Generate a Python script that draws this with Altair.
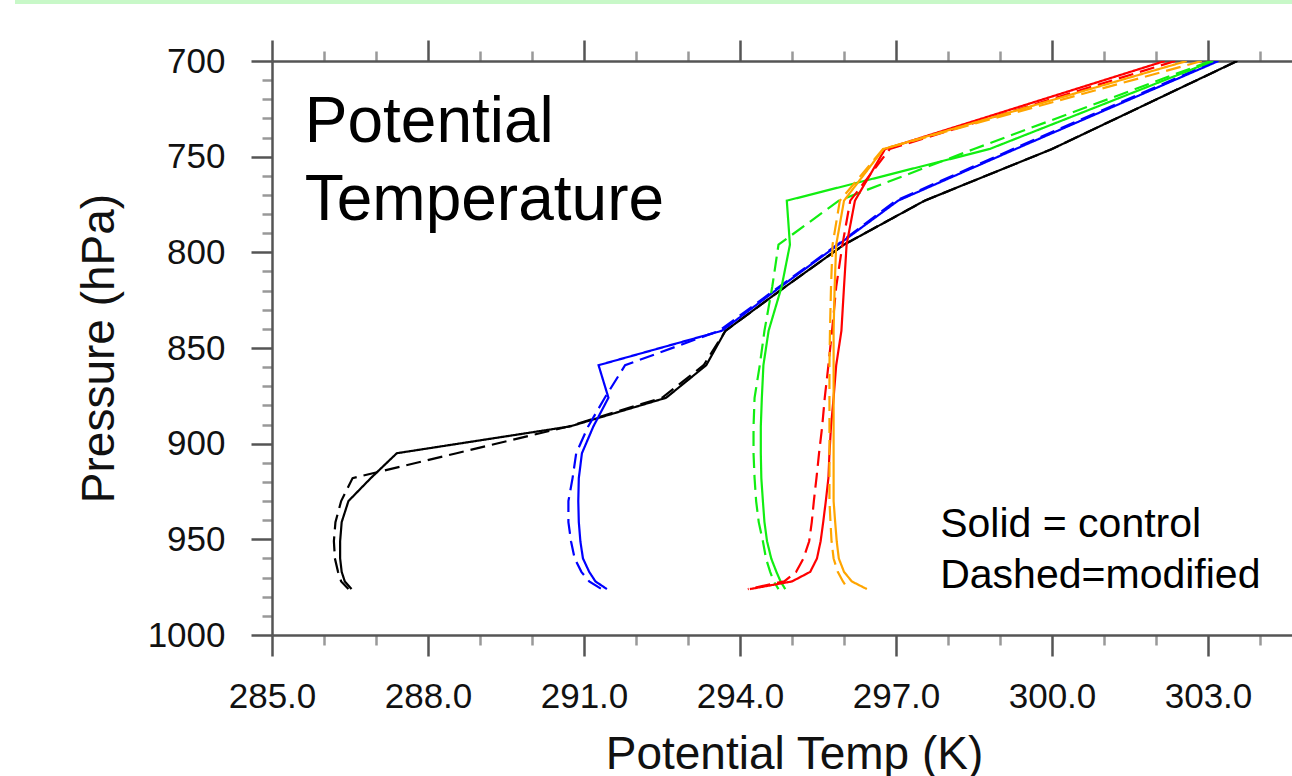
import altair as alt
import pandas as pd

# ---------------- data ----------------
levels = [700, 746, 773, 796, 818, 841, 859, 876, 891, 905, 918, 930, 941, 951, 960, 967, 972, 976]

black_solid = [303.56, 300.0, 297.55, 296.0, 294.87, 293.72, 293.35, 292.58, 290.73, 287.40, 286.9, 286.47, 286.34, 286.31, 286.31, 286.34, 286.40, 286.53]
black_dashed = [303.56, 300.0, 297.55, 296.0, 294.87, 293.72, 293.3, 292.5, 290.7, 288.55, 286.55, 286.33, 286.22, 286.19, 286.21, 286.27, 286.33, 286.47]
blue_solid = [303.2, 299.3, 297.04, 295.89, 294.78, 293.65, 291.28, 291.47, 291.18, 290.96, 290.9, 290.89, 290.9, 290.93, 290.98, 291.1, 291.22, 291.44]
blue_dashed = [303.15, 299.25, 297.0, 295.87, 294.75, 293.6, 291.79, 291.4, 291.08, 290.85, 290.78, 290.7, 290.7, 290.75, 290.82, 290.95, 291.1, 291.34]
green_solid = [303.10, 298.8, 294.90, 294.96, 294.80, 294.55, 294.45, 294.42, 294.40, 294.40, 294.41, 294.44, 294.47, 294.52, 294.6, 294.7, 294.78, 294.87]
green_dashed = [303.05, 298.5, 295.9, 294.74, 294.62, 294.47, 294.38, 294.28, 294.26, 294.26, 294.28, 294.31, 294.36, 294.44, 294.5, 294.58, 294.65, 294.74]
red_solid = [302.17, 296.79, 296.21, 296.05, 296.0, 295.95, 295.85, 295.8, 295.75, 295.72, 295.7, 295.65, 295.6, 295.55, 295.48, 295.35, 295.0, 294.19]
red_dashed = [302.37, 296.88, 296.12, 295.97, 295.85, 295.77, 295.7, 295.63, 295.58, 295.52, 295.47, 295.42, 295.38, 295.33, 295.22, 295.08, 294.85, 294.15]
orange_solid = [302.59, 296.76, 296.0, 295.85, 295.82, 295.8, 295.8, 295.8, 295.8, 295.8, 295.8, 295.8, 295.83, 295.86, 295.9, 296.0, 296.15, 296.44]
orange_dashed = [302.88, 296.75, 295.92, 295.78, 295.75, 295.73, 295.72, 295.72, 295.72, 295.72, 295.72, 295.72, 295.74, 295.76, 295.8, 295.88, 295.98, 296.08]

series_names = ["black", "blue", "green", "red", "orange"]
series_colors = ["#000000", "#0000ff", "#11ee11", "#ff0000", "#ffa500"]
styles = ["control", "modified"]

x_ticks = list(range(285, 305))
y_ticks = list(range(700, 1001, 10))

title_lines = ["Potential", "Temperature"]
title_x = [285.63, 285.63]
title_p = [742.3, 783.1]
note_lines = ["Solid = control", "Dashed=modified"]
note_x = [297.85, 297.85]
note_p = [948.8, 975.5]

# ---------------- build table ----------------
table = {
    ("black", "control"): black_solid, ("black", "modified"): black_dashed,
    ("blue", "control"): blue_solid, ("blue", "modified"): blue_dashed,
    ("green", "control"): green_solid, ("green", "modified"): green_dashed,
    ("red", "control"): red_solid, ("red", "modified"): red_dashed,
    ("orange", "control"): orange_solid, ("orange", "modified"): orange_dashed,
}
rows = []
for (name, style), vals in table.items():
    for i, (p, v) in enumerate(zip(levels, vals)):
        rows.append({"series": name, "style": style, "key": name + "_" + style,
                     "p": p, "theta": v, "order": i})
df = pd.DataFrame(rows)

FONT = "Liberation Sans"
X_MAX = 304.615

x_scale = alt.Scale(domain=[285, X_MAX], nice=False, zero=False)
y_scale = alt.Scale(domain=[700, 1000], reverse=True, nice=False, zero=False)

x_major = "(datum.value - 285) % 3 == 0"
y_major = "datum.value % 50 == 0"

x_axis_bottom = alt.Axis(
    values=x_ticks, orient="bottom", grid=False,
    labelExpr=f"{x_major} ? format(datum.value, '.1f') : ''",
    labelOverlap=False, labelFlush=False, labelFont=FONT, labelFontSize=35, labelColor="#111",
    labelPadding=23,
    tickSize={"condition": {"test": x_major, "value": 21}, "value": 10},
    tickColor={"condition": {"test": x_major, "value": "#555"}, "value": "#999"},
    tickWidth=2.5, domainColor="#555", domainWidth=2.5,
    title="Potential Temp (K)", titleFont=FONT, titleFontSize=46,
    titleFontWeight="normal", titleColor="#111",
    titleX=522, titleY=133, titleBaseline="alphabetic",
)
x_axis_top = alt.Axis(
    values=x_ticks, orient="top", grid=False, labels=False, title=None,
    tickSize={"condition": {"test": x_major, "value": 21}, "value": 10},
    tickColor={"condition": {"test": x_major, "value": "#555"}, "value": "#999"},
    tickWidth=2.5, domainColor="#555", domainWidth=2.5,
)
y_axis = alt.Axis(
    values=y_ticks, orient="left", grid=False,
    labelExpr=f"{y_major} ? format(datum.value, 'd') : ''",
    labelOverlap=False, labelFlush=False, labelFont=FONT, labelFontSize=35, labelColor="#111",
    labelPadding=26,
    tickSize={"condition": {"test": y_major, "value": 21}, "value": 10},
    tickColor={"condition": {"test": y_major, "value": "#555"}, "value": "#999"},
    tickWidth=2.5, domainColor="#555", domainWidth=2.5,
    title="Pressure (hPa)", titleFont=FONT, titleFontSize=46,
    titleFontWeight="normal", titleColor="#111",
    titleX=-159, titleY=287, titleBaseline="alphabetic", titleAngle=270,
)

lines = alt.Chart(df).mark_line(strokeWidth=2.2, clip=True).encode(
    x=alt.X("theta:Q", scale=x_scale, axis=x_axis_bottom),
    y=alt.Y("p:Q", scale=y_scale, axis=y_axis),
    color=alt.Color("series:N", scale=alt.Scale(domain=series_names, range=series_colors), legend=None),
    strokeDash=alt.StrokeDash("style:N", scale=alt.Scale(domain=styles, range=[[1, 0], [15, 7]]), legend=None),
    detail="key:N",
    order="order:Q",
)

top_axis_layer = alt.Chart(pd.DataFrame({"v": x_ticks, "p": [700] * len(x_ticks)})).mark_point(opacity=0).encode(
    x=alt.X("v:Q", scale=x_scale, axis=x_axis_top),
    y=alt.Y("p:Q", scale=y_scale, axis=y_axis),
)

ann_df = pd.DataFrame({"text": title_lines, "x": title_x, "p": title_p})
ann = alt.Chart(ann_df).mark_text(
    align="left", baseline="alphabetic", font=FONT, fontSize=64, color="#000"
).encode(
    x=alt.X("x:Q", scale=x_scale, axis=None),
    y=alt.Y("p:Q", scale=y_scale, axis=y_axis),
    text="text:N",
)

note_df = pd.DataFrame({"text": note_lines, "x": note_x, "p": note_p})
note = alt.Chart(note_df).mark_text(
    align="left", baseline="alphabetic", font=FONT, fontSize=41, color="#000"
).encode(
    x=alt.X("x:Q", scale=x_scale, axis=None),
    y=alt.Y("p:Q", scale=y_scale, axis=y_axis),
    text="text:N",
)

topline = alt.Chart(pd.DataFrame({"a": [0]})).mark_rule(color="#c8f8c8", strokeWidth=4).encode(
    x=alt.value(-257), x2=alt.value(1020), y=alt.value(-59)
)

chart = alt.layer(lines, top_axis_layer, ann, note, topline).resolve_axis(
    x="independent"
).properties(
    width=1020, height=574,
    autosize=alt.AutoSizeParams(type="none"),
    padding={"left": 272, "top": 61, "right": 0, "bottom": 141},
    background="white",
).configure_view(stroke=None)

chart.save("out.html", embed_options={"renderer": "svg", "actions": False})
